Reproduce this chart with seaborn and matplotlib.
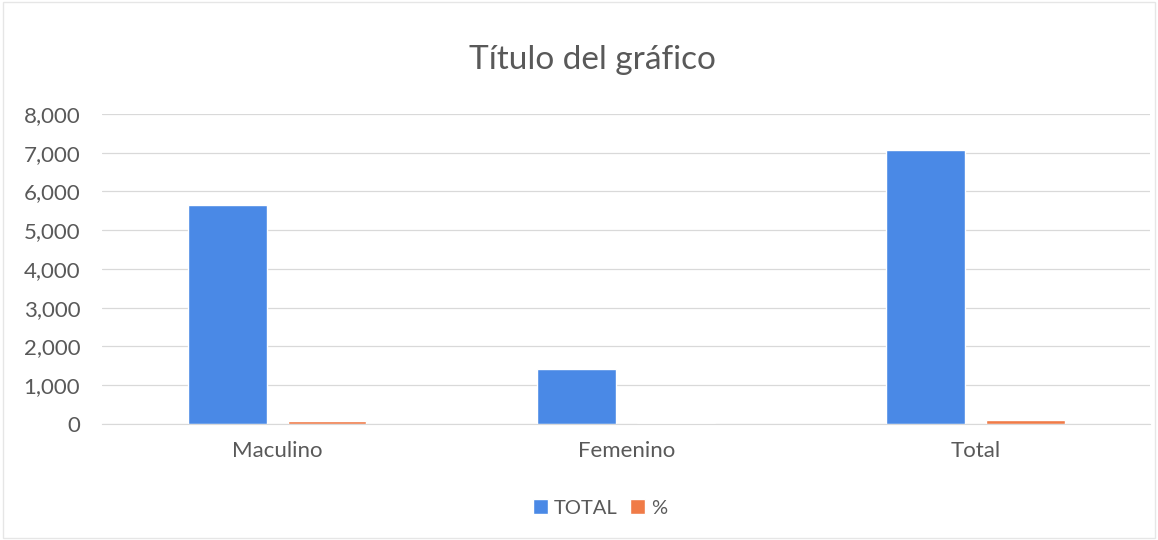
import matplotlib
matplotlib.use("Agg")
import matplotlib.pyplot as plt
import matplotlib.ticker as mticker
import pandas as pd
import seaborn as sns

categories = ["Maculino", "Femenino", "Total"]
total_values = [5652, 1422, 7074]
pct_values = [79.9, 20.1, 100.0]
series = ["TOTAL", "%"]
colors = ["#4a89e6", "#f07b47"]

df = pd.DataFrame({
    "categoria": categories * 2,
    "serie": [series[0]] * 3 + [series[1]] * 3,
    "valor": total_values + pct_values,
})

sns.set_style("white")
plt.rcParams["font.family"] = ["Lato", "DejaVu Sans"]

fig = plt.figure(figsize=(11.58, 5.4), dpi=100)
ax = fig.add_axes([0.0885, 0.215, 0.9045, 0.574])

sns.barplot(data=df, x="categoria", y="valor", hue="serie", palette=colors,
            width=0.571, gap=0.21, ax=ax, saturation=1, legend=True)

ax.set_ylim(0, 8000)
ax.set_xlim(-0.5, 2.5)
ax.yaxis.set_major_locator(mticker.MultipleLocator(1000))
ax.yaxis.set_major_formatter(mticker.FuncFormatter(lambda v, p: f"{int(v):,}"))
ax.grid(axis="y", color="#d9d9d9", linewidth=0.9)
ax.set_axisbelow(True)
for s in ["top", "right", "left"]:
    ax.spines[s].set_visible(False)
ax.spines["bottom"].set_color("#d9d9d9")
ax.tick_params(axis="both", length=0, labelsize=16, colors="#595959")
ax.tick_params(axis="y", pad=16)
ax.tick_params(axis="x", pad=12)
ax.set_xlabel("")
ax.set_ylabel("")

fig.text(0.512, 0.889, "Título del gráfico", ha="center", va="center",
         fontsize=24, color="#595959")

handles, labels = ax.get_legend_handles_labels()
ax.get_legend().remove()
fig.legend(handles, labels, loc="center", bbox_to_anchor=(0.518, 0.059), ncol=2,
           frameon=False, fontsize=14.5, labelcolor="#595959", handlelength=0.75,
           handleheight=0.75, handletextpad=0.3, columnspacing=0.6)

fig.patches.append(plt.Rectangle((0.003, 0.003), 0.994, 0.994, transform=fig.transFigure,
                                 fill=False, edgecolor="#e6e6e6", linewidth=1))

fig.savefig("out.png", dpi=100)
